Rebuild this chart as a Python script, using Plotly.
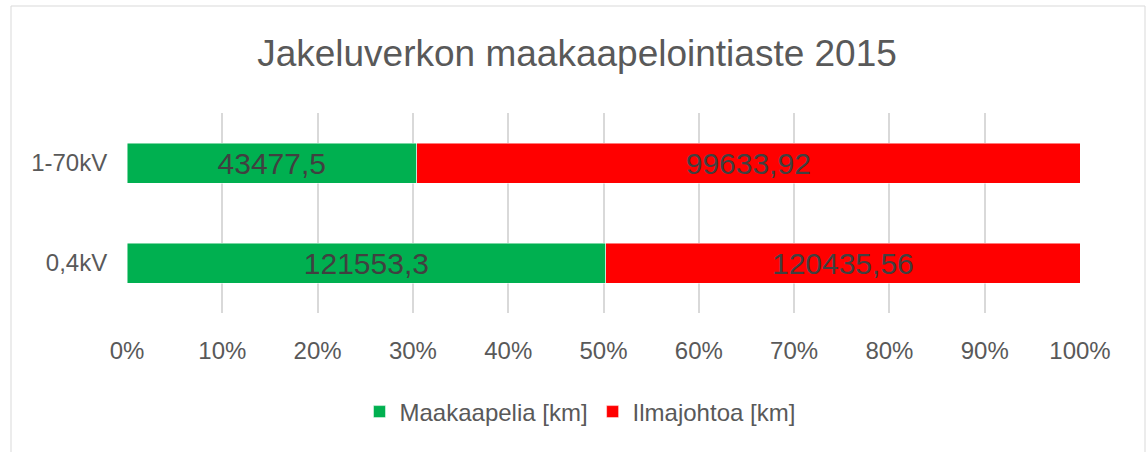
import plotly.graph_objects as go

categories = ["0,4kV", "1-70kV"]
maakaapelia = [121553.3, 43477.5]
ilmajohtoa = [120435.56, 99633.92]
x_ticks = [0, 10, 20, 30, 40, 50, 60, 70, 80, 90, 100]
x_tick_labels = [f"{t}%" for t in x_ticks]


def fi(v):
    return f"{v}".replace(".", ",")


FONT = "Liberation Sans, Arial, sans-serif"
W, H = 1146, 452
L, R, T, B = 127, 1080, 113, 313  # plot area pixels


def px_x(p):
    return (p - L) / (R - L)


def px_y(p):
    return (B - p) / (B - T)


fig = go.Figure()
fig.add_trace(go.Bar(
    y=categories, x=maakaapelia, orientation="h", name="Maakaapelia [km]",
    marker=dict(color="#00B050", line=dict(color="rgba(255,255,255,0.6)", width=0.8)),
    text=[fi(v) for v in maakaapelia], textposition="inside", insidetextanchor="middle",
    constraintext="none",
    textfont=dict(family=FONT, size=30, color="#404040"),
))
fig.add_trace(go.Bar(
    y=categories, x=ilmajohtoa, orientation="h", name="Ilmajohtoa [km]",
    marker=dict(color="#FF0000", line=dict(color="rgba(255,255,255,0.6)", width=0.8)),
    text=[fi(v) for v in ilmajohtoa], textposition="inside", insidetextanchor="middle",
    constraintext="none",
    textfont=dict(family=FONT, size=30, color="#404040"),
))

fig.update_layout(
    width=W, height=H,
    barmode="stack", barnorm="percent", bargap=0.6,
    paper_bgcolor="white", plot_bgcolor="white",
    margin=dict(l=L, r=W - R, t=T, b=H - B, pad=0),
    font=dict(family=FONT, color="#595959", size=24),
    title=dict(text="Jakeluverkon maakaapelointiaste 2015",
               font=dict(family=FONT, size=37, color="#595959"),
               x=px_x(577), xref="paper", xanchor="center",
               y=1 - 53 / H, yref="container", yanchor="middle"),
    xaxis=dict(range=[0, 100], tickvals=x_ticks, ticktext=x_tick_labels,
               showgrid=True, gridcolor="#D9D9D9", gridwidth=1.6,
               zeroline=False, showline=False,
               ticks="outside", ticklen=16, tickcolor="rgba(0,0,0,0)",
               tickfont=dict(family=FONT, size=24, color="#595959")),
    yaxis=dict(type="category", range=[-0.5, 1.5], showgrid=False, zeroline=False,
               showline=False, ticks="outside", ticklen=14, tickcolor="rgba(0,0,0,0)",
               tickfont=dict(family=FONT, size=24, color="#595959")),
    showlegend=True,
    legend=dict(orientation="h", x=px_x(580), xanchor="center",
                y=px_y(412), yanchor="middle", traceorder="normal",
                font=dict(family=FONT, size=24, color="#595959"),
                itemwidth=30, bgcolor="rgba(0,0,0,0)"),
    shapes=[dict(type="rect", xref="paper", yref="paper",
                 x0=px_x(11), x1=px_x(1145), y0=px_y(470), y1=px_y(6),
                 line=dict(color="#D9D9D9", width=1), fillcolor="rgba(0,0,0,0)",
                 layer="below")],
)

fig.write_html("out.html", config={"displayModeBar": False},
               post_script="document.body.style.margin='0px';document.body.style.overflow='hidden';")
